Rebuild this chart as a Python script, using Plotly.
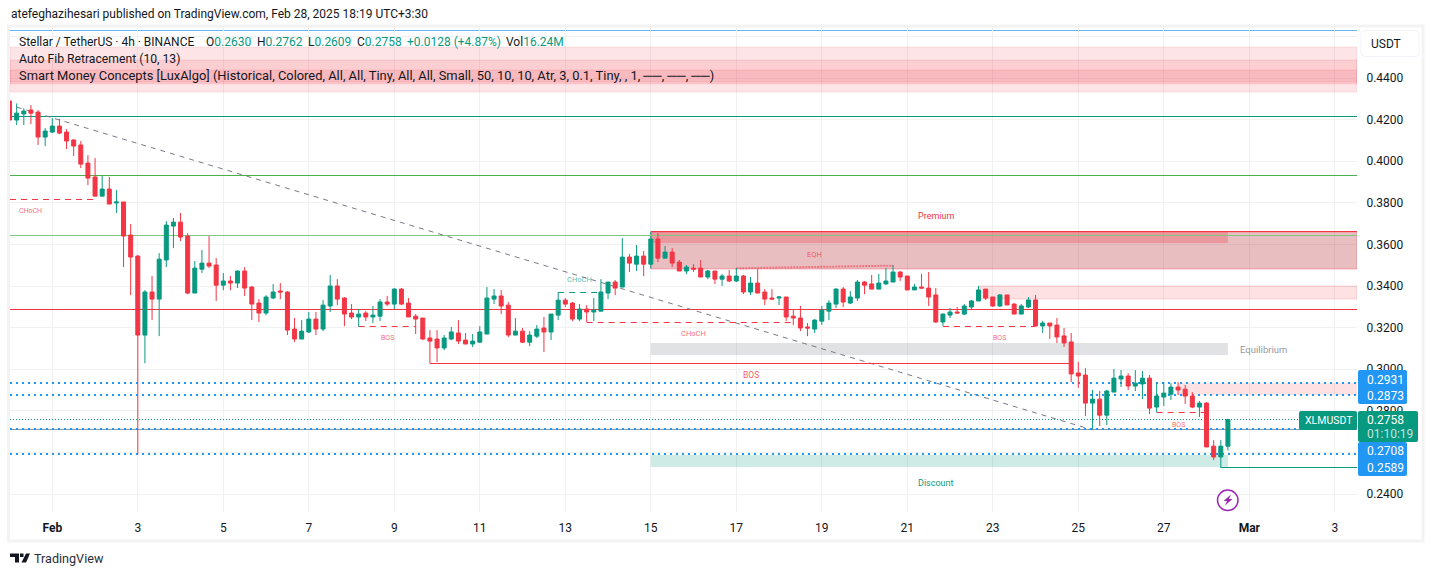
import math
import pandas as pd
import plotly.graph_objects as go

# ---------- data (prices), 4h candles ----------
first_candle = "2025-01-31 00:00"
opens = [
 .4289,.4198,.4227,.4246,.4236,.4116,.4140,.4169,.4140,.4102,
 .4078,.3991,.3924,.3832,.3866,.3799,.3804,.3645,.3544,.3164,
 .3371,.3337,.3525,.3688,.3707,.3640,.3366,.3481,.3510,.3501,
 .3404,.3424,.3414,.3472,.3395,.3318,.3270,.3342,.3376,.3371,
 .3193,.3145,.3179,.3241,.3193,.3304,.3400,.3342,.3270,.3251,
 .3270,.3251,.3255,.3323,.3313,.3385,.3318,.3255,.3246,.3150,
 .3145,.3102,.3145,.3174,.3140,.3121,.3130,.3169,.3337,.3352,
 .3308,.3164,.3183,.3130,.3159,.3198,.3179,.3260,.3332,.3318,
 .3241,.3289,.3275,.3279,.3366,.3419,.3395,.3539,.3505,.3544,
 .3505,.3626,.3534,.3563,.3515,.3472,.3486,.3486,.3443,.3472,
 .3433,.3448,.3424,.3448,.3371,.3414,.3371,.3342,.3342,.3347,
 .3255,.3246,.3203,.3193,.3231,.3279,.3313,.3385,.3318,.3342,
 .3419,.3410,.3385,.3410,.3419,.3467,.3448,.3381,.3395,.3390,
 .3357,.3227,.3260,.3275,.3265,.3299,.3328,.3385,.3347,.3304,
 .3357,.3313,.3265,.3299,.3333,.3208,.3222,.3212,.3160,.3131,
 .2982,.2972,.2837,.2856,.2779,.2890,.2953,.2967,.2919,.2929,
 .2957,.2818,.2866,.2880,.2914,.2904,.2871,.2818,.2837,.2630,
 .2578,.2630]
highs = [
 .4299,.4278,.4254,.4270,.4246,.4159,.4207,.4203,.4154,.4106,
 .4097,.4029,.4015,.3929,.3924,.3861,.3804,.3698,.3549,.3380,
 .3448,.3558,.3712,.3727,.3751,.3654,.3520,.3573,.3640,.3534,
 .3462,.3448,.3475,.3491,.3400,.3337,.3356,.3409,.3414,.3376,
 .3246,.3236,.3275,.3275,.3332,.3453,.3433,.3347,.3313,.3289,
 .3279,.3304,.3337,.3352,.3390,.3390,.3342,.3265,.3246,.3188,
 .3188,.3164,.3203,.3236,.3174,.3169,.3207,.3395,.3385,.3380,
 .3323,.3246,.3198,.3183,.3212,.3251,.3265,.3371,.3342,.3323,
 .3313,.3308,.3342,.3433,.3419,.3429,.3630,.3554,.3597,.3568,
 .3626,.3654,.3592,.3582,.3525,.3501,.3505,.3525,.3477,.3472,
 .3457,.3477,.3486,.3453,.3443,.3481,.3385,.3385,.3352,.3347,
 .3289,.3304,.3222,.3241,.3304,.3332,.3390,.3395,.3376,.3429,
 .3424,.3453,.3458,.3486,.3501,.3472,.3448,.3410,.3458,.3467,
 .3390,.3268,.3294,.3299,.3313,.3333,.3400,.3385,.3347,.3361,
 .3357,.3318,.3313,.3347,.3357,.3232,.3222,.3246,.3198,.3174,
 .3035,.3005,.2900,.2895,.2900,.3001,.2996,.2981,.2996,.2991,
 .2972,.2933,.2938,.2933,.2938,.2924,.2890,.2847,.2842,.2659,
 .2659,.2762]
lows = [
 .4190,.4174,.4174,.4179,.4078,.4073,.4135,.4130,.4058,.4025,
 .3967,.3885,.3832,.3832,.3794,.3751,.3491,.3356,.2590,.3029,
 .3236,.3159,.3491,.3582,.3616,.3361,.3366,.3462,.3486,.3328,
 .3380,.3380,.3390,.3352,.3236,.3227,.3260,.3337,.3337,.3164,
 .3130,.3145,.3174,.3164,.3183,.3275,.3308,.3207,.3241,.3204,
 .3231,.3222,.3231,.3304,.3289,.3308,.3251,.3169,.3140,.3028,
 .3034,.3092,.3140,.3121,.3121,.3106,.3126,.3169,.3313,.3265,
 .3154,.3164,.3126,.3111,.3150,.3082,.3140,.3236,.3299,.3231,
 .3231,.3227,.3231,.3279,.3337,.3356,.3395,.3467,.3472,.3448,
 .3505,.3515,.3534,.3491,.3472,.3457,.3467,.3443,.3433,.3409,
 .3400,.3419,.3419,.3361,.3356,.3366,.3308,.3332,.3308,.3231,
 .3212,.3183,.3159,.3174,.3212,.3236,.3294,.3299,.3313,.3328,
 .3361,.3385,.3385,.3405,.3419,.3424,.3381,.3381,.3385,.3304,
 .3222,.3208,.3246,.3270,.3260,.3289,.3328,.3333,.3299,.3299,
 .3309,.3265,.3265,.3294,.3208,.3174,.3145,.3126,.3107,.2938,
 .2910,.2775,.2712,.2727,.2731,.2890,.2914,.2900,.2895,.2856,
 .2784,.2792,.2823,.2852,.2876,.2832,.2813,.2770,.2626,.2563,
 .2525,.2609]
closes = [
 .4198,.4231,.4241,.4231,.4116,.4145,.4169,.4135,.4097,.4073,
 .3986,.3919,.3832,.3866,.3794,.3804,.3640,.3539,.3164,.3371,
 .3337,.3529,.3693,.3707,.3635,.3366,.3486,.3510,.3496,.3404,
 .3424,.3414,.3472,.3390,.3313,.3270,.3347,.3371,.3371,.3188,
 .3145,.3183,.3241,.3193,.3308,.3400,.3337,.3265,.3251,.3265,
 .3251,.3260,.3323,.3313,.3385,.3313,.3251,.3241,.3145,.3135,
 .3102,.3150,.3179,.3135,.3121,.3135,.3179,.3342,.3352,.3304,
 .3164,.3183,.3130,.3164,.3193,.3179,.3265,.3332,.3313,.3241,
 .3289,.3275,.3284,.3371,.3419,.3390,.3539,.3510,.3544,.3505,
 .3626,.3534,.3563,.3510,.3472,.3491,.3481,.3443,.3472,.3433,
 .3448,.3424,.3448,.3371,.3414,.3366,.3337,.3337,.3347,.3251,
 .3246,.3198,.3198,.3236,.3284,.3318,.3385,.3323,.3347,.3419,
 .3404,.3385,.3414,.3424,.3467,.3443,.3381,.3395,.3390,.3347,
 .3227,.3265,.3275,.3270,.3304,.3328,.3381,.3342,.3304,.3357,
 .3309,.3265,.3304,.3333,.3208,.3222,.3208,.3155,.3126,.2977,
 .2967,.2837,.2856,.2779,.2895,.2957,.2967,.2919,.2933,.2957,
 .2813,.2871,.2885,.2914,.2900,.2871,.2818,.2837,.2626,.2578,
 .2630,.2758]

price_ticks = [.24,.26,.28,.30,.32,.34,.36,.38,.40,.42,.44,.46]
hidden_ticks = [.26, .46]          # their labels sit fully behind the price tags
date_ticks = ["2025-02-%02d" % d for d in range(1, 28, 2)] + ["2025-03-01", "2025-03-03"]
date_labels = ["<b>Feb</b>"] + [str(d) for d in range(3, 28, 2)] + ["<b>Mar</b>", "3"]

fib_levels = [(.4217, "#089981", 1), (.3932, "#4caf50", 1), (.3643, "#81c784", 1), (.3288, "#f23645", 1)]
marked_prices = [.2931, .2873, .2708, .2589]
last_price = .2758

# ---------- helpers ----------
FONT = "Roboto"
RED, GREEN, BLUE, INK = "#f23645", "#089981", "#2196f3", "#131722"
GRID = "#f0f1f3"
base = pd.Timestamp(first_candle)
times = [base + pd.Timedelta(hours=4 * k) for k in range(len(closes))]
def T(feb_index):               # candle number counted from Feb 1 00:00
    return base + pd.Timedelta(hours=4 * (feb_index + 6))
px = lambda x: (x - 10) / 1347
py = lambda y: (512 - y) / 485

DAY_PX = 42.75
PRICE_PX = 2080
feb1 = pd.Timestamp("2025-02-01")
x_left = feb1 - pd.Timedelta(days=42.3 / DAY_PX)
x_right = feb1 + pd.Timedelta(days=1304.7 / DAY_PX)
y_low, y_high = .44 - 434 / PRICE_PX, .44 + 51 / PRICE_PX

def snap(p, width=None):
    """Nudge a price onto the pixel grid so thin rules stay crisp."""
    y = 78 + (.44 - p) * PRICE_PX
    if width is None:
        y = round(y)
    else:
        y = math.floor(y) + .5 if width % 2 else math.floor(y)
    return .44 - (y - 78) / PRICE_PX

shapes, annos = [], []
def zone(x0, x1, p0, p1, fill, edge=None):
    shapes.append(dict(type="rect", xref="x", yref="y", x0=x0, x1=x_right if x1 is None else x1,
                       y0=snap(p0), y1=snap(p1), fillcolor=fill, layer="between",
                       line=dict(width=1 if edge else 0, color=edge or "rgba(0,0,0,0)")))
def seg(x0, p0, x1, p1, color, width=1, dash="solid", layer="between"):
    if p0 == p1:
        p0 = p1 = snap(p0, width)
    shapes.append(dict(type="line", xref="x", yref="y", x0=x0, y0=p0, x1=x1, y1=p1, layer=layer,
                       line=dict(color=color, width=width, dash=dash)))
def rrect(x0, y0, x1, y1, r, fill, edge=None):
    a, b, c, d = px(x0), px(x1), py(y0), py(y1)
    rx, ry = r / 1347, r / 485
    path = (f"M {a+rx} {c} L {b-rx} {c} Q {b} {c} {b} {c-ry} L {b} {d+ry} Q {b} {d} {b-rx} {d} "
            f"L {a+rx} {d} Q {a} {d} {a} {d+ry} L {a} {c-ry} Q {a} {c} {a+rx} {c} Z")
    shapes.append(dict(type="path", xref="paper", yref="paper", path=path, fillcolor=fill, layer="above",
                       line=dict(color=edge or "rgba(0,0,0,0)", width=1 if edge else 0)))
def label(x, y, text, size=12, color=INK, anchor="left"):
    annos.append(dict(xref="paper", yref="paper", x=px(x), y=py(y), text=text, showarrow=False,
                      xanchor=anchor, yanchor="middle", borderpad=0,
                      font=dict(family=FONT, size=size, color=color)))
def plabel(x_time, price, text, size=7.5, color="rgba(242,54,69,.75)"):
    annos.append(dict(xref="x", yref="y", x=x_time, y=price, text=text, showarrow=False,
                      xanchor="center", yanchor="middle", borderpad=0,
                      font=dict(family=FONT, size=size, color=color)))

# ---------- zones ----------
P = "rgba(242,54,69,.13)"
PE = "rgba(242,54,69,.12)"
zone(x_left, None, .4331, .4548, P, PE)
zone(x_left, None, .4371, .4487, P, PE)
zone(x_left, None, .4382, .4438, P, PE)
zone(T(84), None, .3484, .3662, "rgba(178,40,51,.30)", "rgba(242,54,69,.35)")
zone(T(84), T(165), .3607, .3662, "rgba(242,54,69,.28)")
seg(T(84), .3662, x_right, .3662, RED, 1)
seg(T(84), .3662, T(84), .3484, "#089981", 1)
zone(T(130), None, .3338, .3400, "rgba(242,54,69,.15)", "rgba(242,54,69,.18)")
zone(T(158), None, .2876, .2936, "rgba(242,54,69,.15)")
zone(T(84), T(165), .3068, .3126, "rgba(120,123,134,.22)")
zone(T(84), T(165), .2530, .2588, "rgba(8,153,129,.20)")

# ---------- fib lines ----------
for p, c, w in fib_levels:
    seg(x_left, p, x_right, p, c, w)
seg(x_left, .2708, x_right, .2708, "#8a93b0", 1)
seg(T(-5), .4260, T(146), .2708, "#787b86", 1, "5px,5px")

# ---------- structure lines ----------
seg(x_left, .3817, T(6), .3817, RED, 1, "6px,5px")
seg(T(43), .3206, T(51), .3206, RED, 1, "6px,5px")
seg(T(71), .3370, T(77), .3370, GREEN, 1, "6px,5px")
seg(T(75), .3225, T(104), .3225, RED, 1, "6px,5px")
seg(T(53), .3028, T(143), .3028, RED, 1)
seg(T(125), .3206, T(138), .3206, RED, 1, "6px,5px")
seg(T(155), .2794, T(162), .2794, RED, 1, "6px,5px")
seg(T(96), .3485, T(118), .3498, "rgba(242,54,69,.55)", 2, "2px,1px")
seg(T(164), .2527, x_right, .2527, GREEN, 1)

# ---------- price lines ----------
for p in marked_prices:
    seg(x_left, p, x_right, p, BLUE, 2, "2px,4px")
seg(x_left, last_price, x_right, last_price, GREEN, 1, "1px,2px")
shapes.append(dict(type="line", xref="paper", yref="paper", x0=0, x1=1, y0=py(30.5), y1=py(30.5),
                   line=dict(color="#64b5f6", width=1), layer="below"))

# ---------- small labels ----------
plabel(T(-3), .3760, "CHoCH", 7)
plabel(T(47), .3152, "BOS", 7)
plabel(T(74), .3432, "CHoCH", 7.5, "rgba(8,153,129,.7)")
plabel(T(90), .3172, "CHoCH", 7.5)
plabel(T(107), .3553, "EQH", 7.5)
plabel(T(133), .3152, "BOS", 7)
plabel(T(98), .2973, "BOS", 8.5, "rgba(242,54,69,.85)")
plabel(T(158), .2730, "BOS", 7)
plabel(T(124), .3738, "Premium", 9, RED)
plabel(T(124), .2455, "Discount", 9, GREEN)
annos.append(dict(xref="x", yref="y", x=T(170), y=.3097, text="Equilibrium", showarrow=False,
                  font=dict(family=FONT, size=9.5, color="#9598a1")))

# ---------- chrome: frame and header ----------
shapes.append(dict(type="rect", xref="paper", yref="paper", x0=px(8.5), x1=px(1423), y0=py(26), y1=py(541),
                   line=dict(color="#f3f3f3", width=3), layer="below"))
rrect(1361, 30.5, 1419, 56.5, 4, "#ffffff", "#f0f3fa")
label(1370, 44, "USDT", 12)

rrect(1358, 370, 1407, 404, 2, BLUE)
rrect(1358, 442, 1407, 476, 2, BLUE)
rrect(1358, 411, 1418, 442, 2, GREEN)
rrect(1299, 411, 1357, 430, 2, GREEN)
label(1304, 420.5, "XLMUSDT", 10.5, "#ffffff")
label(1366, 379.5, "0.2931", 12, "#ffffff")
label(1366, 395.5, "0.2873", 12, "#ffffff")
label(1366, 451, "0.2708", 12, "#ffffff")
label(1366, 467.5, "0.2589", 12, "#ffffff")
label(1366, 420, "0.2758", 12, "#ffffff")
label(1366, 433.5, "01:10:19", 12, "rgba(255,255,255,.75)")

g = lambda s: f'<span style="color:{GREEN}">{s}</span>'
label(10, 14, "atefeghazihesari published on TradingView.com, Feb 28, 2025 18:19 UTC+3:30", 12)
label(18, 42, "Stellar / TetherUS · 4h · BINANCE", 12)
label(205, 42, "O" + g("0.2630"), 12)
label(255.5, 42, "H" + g("0.2762"), 12)
label(307, 42, "L" + g("0.2609"), 12)
label(356, 42, "C" + g("0.2758"), 12)
label(405.5, 42, g("+0.0128 (+4.87%)"), 12)
label(505, 42, "Vol" + g("16.24M"), 12)
label(18, 59, "Auto Fib Retracement (10, 13)", 12.2)
label(18, 76, "Smart Money Concepts [LuxAlgo] (Historical, Colored, All, All, Tiny, All, All, Small, 50, 10, 10, "
              "Atr, 3, 0.1, Tiny, , 1, ──, ──, ──)", 12.9)

# TradingView mark and name
def poly(points, color):
    path = "M " + " L ".join(f"{px(x)} {py(y)}" for x, y in points) + " Z"
    shapes.append(dict(type="path", xref="paper", yref="paper", path=path, fillcolor=color, layer="above",
                       line=dict(width=0)))
poly([(10, 553.5), (19, 553.5), (19, 562.5), (15, 562.5), (15, 557), (10, 557)], "#131722")
poly([(20, 553.5), (23.5, 553.5), (23.5, 557), (20, 557)], "#131722")
poly([(26, 553.5), (30, 553.5), (26, 562.5), (21.5, 562.5)], "#131722")
label(33, 558.5, "TradingView", 12.6, "#2a2e39")

# bolt marker
shapes.append(dict(type="circle", xref="paper", yref="paper", x0=px(1217.5), x1=px(1238), y0=py(490), y1=py(510.5),
                   fillcolor="#ffffff", line=dict(color="#9c27b0", width=1.5), layer="above"))
poly([(1231, 494.5), (1223.5, 501), (1227, 501), (1225, 505.5), (1232.5, 499), (1229, 499)], "#9c27b0")

# ---------- figure ----------
fig = go.Figure(go.Candlestick(
    x=times, open=opens, high=highs, low=lows, close=closes, whiskerwidth=0,
    increasing=dict(line=dict(color=GREEN, width=1), fillcolor=GREEN),
    decreasing=dict(line=dict(color=RED, width=1), fillcolor=RED),
    hoverinfo="skip", showlegend=False))

fig.update_layout(
    width=1433, height=576, margin=dict(l=10, r=76, t=27, b=64),
    paper_bgcolor="#ffffff", plot_bgcolor="#ffffff", showlegend=False, boxgap=0.2, boxgroupgap=0.3,
    font=dict(family=FONT, size=12, color=INK),
    shapes=shapes, annotations=annos,
    xaxis=dict(type="date", range=[x_left, x_right], tickmode="array", tickvals=date_ticks, ticktext=date_labels,
               showgrid=True, gridcolor=GRID, gridwidth=1, zeroline=False, showline=False, ticks="outside",
               ticklen=5, tickcolor="rgba(0,0,0,0)", tickfont=dict(family=FONT, size=12, color=INK),
               rangeslider=dict(visible=False), tickangle=0),
    yaxis=dict(side="right", range=[y_low, y_high], tickmode="array", tickvals=price_ticks,
               ticktext=["" if v in hidden_ticks else "%.4f" % v for v in price_ticks],
               showgrid=True, gridcolor=GRID, gridwidth=1,
               zeroline=False, showline=False, ticks="outside", ticklen=6, tickcolor="rgba(0,0,0,0)",
               tickfont=dict(family=FONT, size=12, color=INK)),
)

fig.write_html("out.html", config={"displayModeBar": False},
               post_script="document.body.style.margin='0';document.body.style.overflow='hidden';")
